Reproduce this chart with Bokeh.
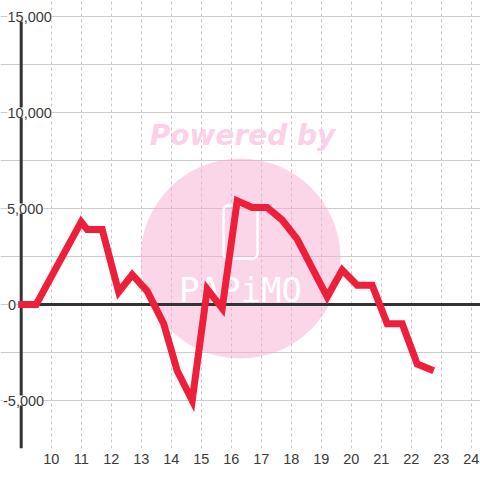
from bokeh.plotting import figure
from bokeh.models import Range1d, FixedTicker, Grid, LabelSet, ColumnDataSource, Label
from bokeh.embed import file_html
from bokeh.resources import INLINE
from bokeh.core.properties import value

# ---- data ----
hours = [8.9, 9.5, 11.0, 11.2, 11.7, 12.25, 12.7, 13.2, 13.75, 14.2, 14.7, 15.2, 15.7,
         16.2, 16.7, 17.2, 17.7, 18.2, 18.7, 19.2, 19.7, 20.2, 20.7, 21.2, 21.7, 22.2, 22.75]
balance = [0, 0, 4300, 3900, 3900, 650, 1550, 700, -1000, -3450, -5000, 800, -200,
           5400, 5050, 5050, 4400, 3400, 1900, 400, 1800, 1000, 1000, -1000, -1000, -3100, -3450]
x_ticks = list(range(10, 25))
y_grid_values = [-7500, -5000, -2500, 0, 2500, 5000, 7500, 10000, 12500, 15000]
y_tick_values = [-5000, 0, 5000, 10000, 15000]
y_tick_labels = ["-5,000", "0", "5,000", "10,000", "15,000"]
y_min, y_max = -7500, 15000

# ---- layout helpers (pixels -> data) ----
AXIS_X = 9.0
PX0 = 20.7          # pixel x of AXIS_X
PX_PER_UNIT = 30.0
PY0 = 304.0         # pixel y of value 0
VAL_PER_PX = 5000 / 96.0

def px_x(px):
    return AXIS_X + (px - PX0) / PX_PER_UNIT

def px_y(py):
    return (PY0 - py) * VAL_PER_PX

x_start = px_x(0)
x_end = px_x(480)
label_left_px = [2.5, 7.5, 6.5, 7, 7]

p = figure(width=480, height=480, output_backend="svg", toolbar_location=None,
           x_range=Range1d(x_start, x_end), y_range=Range1d(y_min, px_y(0)),
           y_axis_location=None, min_border_left=0, min_border_right=0,
           min_border_top=0, min_border_bottom=32)
p.background_fill_color = "white"
p.border_fill_color = "white"
p.outline_line_color = None

# x axis: labels only
ax = p.xaxis[0]
ax.ticker = FixedTicker(ticks=x_ticks)
ax.axis_line_color = None
ax.major_tick_line_color = None
ax.minor_tick_line_color = None
ax.major_tick_out = 0
ax.major_label_standoff = 5
ax.major_label_text_font = "Liberation Sans"
ax.major_label_text_font_size = "14.5px"
ax.major_label_text_color = "#3a3a3a"

# grids
p.xgrid.grid_line_color = "#c8c8c8"
p.xgrid.grid_line_dash = "3 3"
p.xgrid.grid_line_width = 1
p.xgrid.ticker = FixedTicker(ticks=x_ticks)
p.xgrid.bounds = (y_min, y_max)
ygrid = Grid(dimension=1, ticker=FixedTicker(ticks=y_grid_values),
             grid_line_color="#cccccc", grid_line_width=1, bounds=(AXIS_X, 30))
p.add_layout(ygrid)

# watermark
p.scatter(x=[px_x(240)], y=[px_y(258)], size=200, marker="circle",
          fill_color="#f7a8d0", fill_alpha=0.47, line_color=None)
p.quad(left=[px_x(223)], right=[px_x(257)], top=[px_y(205)], bottom=[px_y(258)],
       fill_color=None, line_color="white", line_width=2.5, border_radius=5)
p.text(x=[px_x(240)], y=[px_y(289)], text=["PAPiMO"], text_font=value("DejaVu Sans Mono"),
       text_font_size="34px", text_color="white", text_align="center",
       text_baseline="middle")
p.add_layout(Label(x=px_x(242), y=px_y(135), text="Powered by",
                   text_font="DejaVu Sans", text_font_style="bold italic",
                   text_font_size="28px", text_color="#fbd0e8",
                   text_align="center", text_baseline="alphabetic"))

# axis line and zero line
p.segment(x0=[AXIS_X], y0=[y_min], x1=[AXIS_X], y1=[y_max], line_color="#333333", line_width=3)
p.segment(x0=[AXIS_X], y0=[0], x1=[x_end], y1=[0], line_color="#333333", line_width=3)

# the series
p.line(hours, balance, line_color="#ee1f3a", line_width=7, line_join="miter", line_cap="butt")

# y tick labels drawn over the plot with white background
ysrc = ColumnDataSource(dict(x=[px_x(v) for v in label_left_px], y=y_tick_values, t=y_tick_labels))
p.add_layout(LabelSet(x="x", y="y", text="t", source=ysrc, text_align="left",
                      text_baseline="middle", text_font=value("Liberation Sans"),
                      text_font_size="14.5px", text_color="#3a3a3a",
                      background_fill_color="white"))

open("out.html", "w").write(file_html(p, INLINE))
